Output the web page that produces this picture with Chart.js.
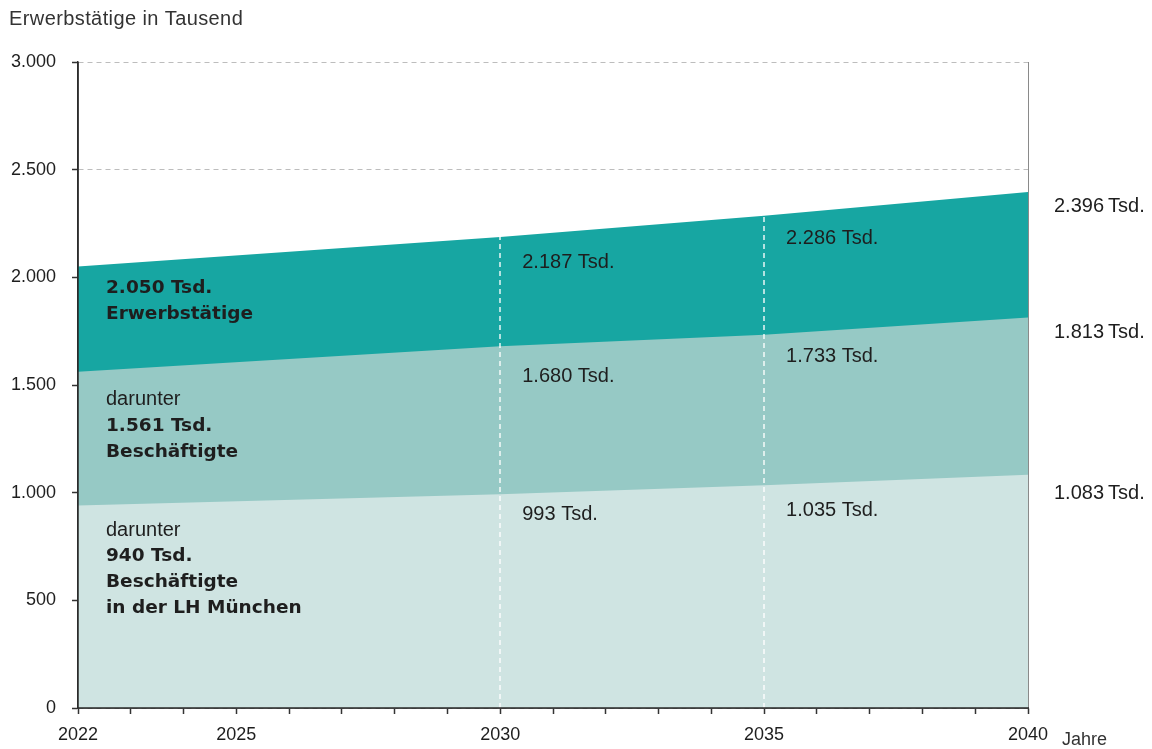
<!DOCTYPE html>
<html><head><meta charset="utf-8">
<script src="https://cdn.jsdelivr.net/npm/chart.js@4/dist/chart.umd.min.js"></script>
<style>html,body{margin:0;padding:0;background:#fff}#wrap{width:1152px;height:749px;position:relative}</style>
</head><body><div id="wrap"><canvas id="c" width="1152" height="749"></canvas></div>
<script>
// ---- data ----
const years = [2022, 2030, 2035, 2040];
const erwerbstaetige = [2050, 2187, 2286, 2396];
const beschaeftigte = [1561, 1680, 1733, 1813];
const beschaeftigteMuenchen = [940, 993, 1035, 1083];
const xTickLabels = [2022, 2025, 2030, 2035, 2040];
const yTickValues = [0, 500, 1000, 1500, 2000, 2500, 3000];
const yAxisTitle = 'Erwerbstätige in Tausend';
const xAxisTitle = 'Jahre';
const unit = 'Tsd.';
const seriesLabels = [
  ['darunter', '§', 'Beschäftigte', 'in der LH München'],
  ['darunter', '§', 'Beschäftigte'],
  ['§', 'Erwerbstätige']
];

const fmt = v => String(v).replace(/\B(?=(\d{3})+(?!\d))/g, '.');
const REG = '"Liberation Sans", Arial, sans-serif';
const BOLD = 'bold 18.5px "DejaVu Sans", sans-serif';
const TXT = '#1e1e1e';

const seriesAll = [beschaeftigteMuenchen, beschaeftigte, erwerbstaetige];
const colors = ['#cfe4e2', '#96c9c5', '#17a6a2'];

const annot = {
  id: 'annot',
  afterDatasetsDraw(chart) {
    const {ctx, chartArea: a, scales: {x, y}} = chart;
    ctx.save();
    // dashed white vertical lines at intermediate years
    ctx.strokeStyle = 'rgba(255,255,255,0.9)';
    ctx.lineWidth = 1.5;
    ctx.setLineDash([5, 4]);
    for (let i = 1; i < years.length - 1; i++) {
      const px = Math.round(x.getPixelForValue(years[i]));
      ctx.beginPath();
      ctx.moveTo(px, y.getPixelForValue(0));
      ctx.lineTo(px, y.getPixelForValue(erwerbstaetige[i]));
      ctx.stroke();
    }
    ctx.setLineDash([]);
    // right border
    ctx.strokeStyle = '#8a8a8a';
    ctx.lineWidth = 1;
    ctx.beginPath();
    ctx.moveTo(a.right + 0.5, a.top);
    ctx.lineTo(a.right + 0.5, a.bottom);
    ctx.stroke();
    // axis lines on top of fills
    ctx.strokeStyle = '#2a2a2a';
    ctx.lineWidth = 1.5;
    ctx.beginPath();
    ctx.moveTo(a.left, a.top);
    ctx.lineTo(a.left, a.bottom);
    ctx.lineTo(a.right + 1, a.bottom);
    ctx.stroke();

    ctx.fillStyle = TXT;
    ctx.textBaseline = 'middle';
    ctx.textAlign = 'left';
    // value labels at 2030, 2035, 2040
    const offs = [[0,0,0],[20,30,25],[25,22,23],[19,15,14]];
    ctx.font = '20px ' + REG;
    for (let i = 1; i < years.length; i++) {
      const px = x.getPixelForValue(years[i]) + (i === years.length - 1 ? 26 : 22);
      seriesAll.forEach((s, k) => {
        const py = y.getPixelForValue(s[i]) + offs[i][k];
        ctx.fillText(fmt(s[i]) + (i === years.length - 1 ? '\u2009' : ' ') + unit, px, py);
      });
    }
    // left descriptive labels
    const lx = x.getPixelForValue(years[0]) + 28;
    const startOff = [25, 28, 22];
    seriesAll.forEach((s, k) => {
      let py = y.getPixelForValue(s[0]) + startOff[k];
      seriesLabels[k].forEach((line) => {
        ctx.font = line === 'darunter' ? '20px ' + REG : BOLD;
        const t = line === '§' ? fmt(s[0]) + ' ' + unit : line;
        ctx.fillText(t, lx, py);
        py += 26;
      });
    });
    // titles
    ctx.font = '20px ' + REG;
    ctx.fillStyle = '#333';
    try { ctx.letterSpacing = '0.4px'; } catch (e) {}
    ctx.fillText(yAxisTitle, 9, 19);
    try { ctx.letterSpacing = '0px'; } catch (e) {}
    ctx.font = '18px ' + REG;
    ctx.fillText(xAxisTitle, a.right + 34, 740);
    ctx.restore();
  }
};

new Chart(document.getElementById('c'), {
  type: 'line',
  data: {
    datasets: seriesAll.map((s, k) => ({
      label: ['Beschäftigte in der LH München', 'Beschäftigte', 'Erwerbstätige'][k],
      data: years.map((yr, i) => ({x: yr, y: s[i]})),
      fill: 'origin',
      backgroundColor: colors[k],
      borderColor: 'rgba(0,0,0,0)',
      borderWidth: 0,
      pointRadius: 0,
      tension: 0
    }))
  },
  options: {
    responsive: false,
    animation: false,
    devicePixelRatio: 1,
    layout: {padding: {top: 62, right: 124, left: 0, bottom: 0}},
    plugins: {legend: {display: false}, tooltip: {enabled: false}},
    scales: {
      x: {
        type: 'linear', min: years[0], max: years[years.length - 1],
        afterFit(s) { s.height = 41; },
        ticks: {
          stepSize: 1, autoSkip: false, maxRotation: 0, padding: 10,
          color: TXT, font: {family: REG, size: 18},
          callback: v => xTickLabels.includes(v) ? String(v) : ''
        },
        grid: {drawOnChartArea: false, tickLength: 6, tickColor: '#333', tickWidth: 1.5},
        border: {color: '#333', width: 1.5}
      },
      y: {
        min: 0, max: 3000,
        afterFit(s) { s.width = 78; },
        afterBuildTicks(s) { s.ticks = yTickValues.map(v => ({value: v})); },
        ticks: {
          padding: 16, color: TXT, font: {family: REG, size: 18},
          callback: v => fmt(v)
        },
        grid: {color: '#bdbdbd', lineWidth: 1, tickLength: 6, tickColor: '#333', tickWidth: 1.5},
        border: {color: '#333', width: 1.5, dash: [5, 4]}
      }
    }
  },
  plugins: [annot]
});
</script></body></html>
